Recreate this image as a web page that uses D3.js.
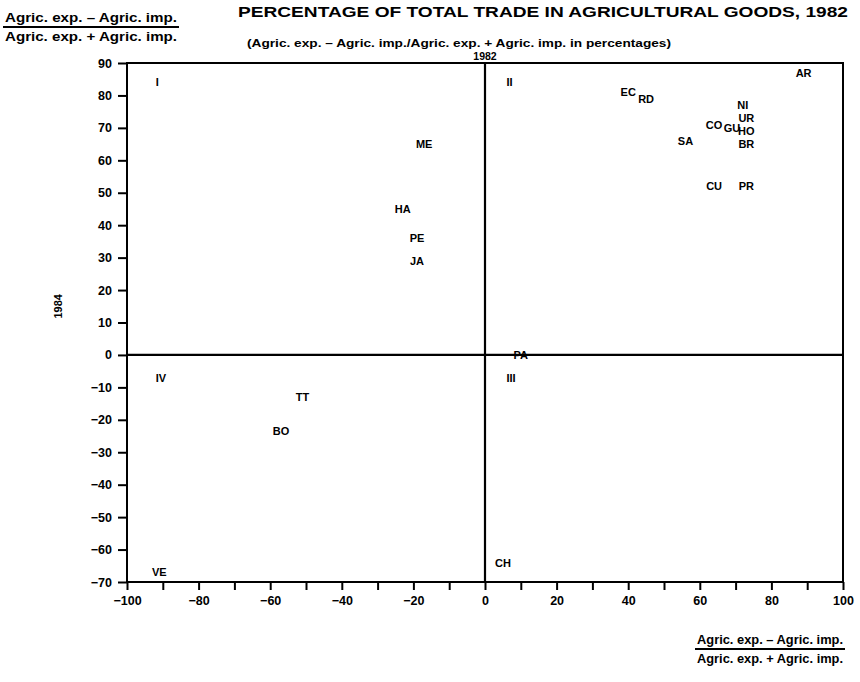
<!DOCTYPE html>
<html>
<head>
<meta charset="utf-8">
<script src="https://cdn.jsdelivr.net/npm/d3@7"></script>
<style>
  body { margin: 0; background: #fff; }
  svg text { font-family: "Liberation Sans Narrow", "Liberation Sans", Arial, sans-serif; font-weight: bold; fill: #000; }
</style>
</head>
<body>
<div id="chart"></div>
<script>
// Country codes and their trade balance shares (1982 on x, 1984 on y)
var codes = ["ME", "HA", "PE", "JA", "EC", "RD", "AR", "SA", "NI", "UR", "CO", "GU", "HO", "BR", "CU", "PR", "PA", "TT", "BO", "VE", "CH"];
var x1982 = [-17, -23, -19, -19, 40, 45, 89, 56, 72, 73, 64, 69, 73, 73, 64, 73, 10, -51, -57, -91, 5];
var y1984 = [65, 45, 36, 29, 81, 79, 87, 66, 77, 73, 71, 70, 69, 65, 52, 52, 0, -13, -23.5, -67, -64];

var xTicks = d3.range(-100, 101, 10);
var yTicks = d3.range(-70, 91, 10);
var quadrants = ["I", "II", "III", "IV"];

var width = 860, height = 682;
var margin = {left: 127, right: 17, top: 63, bottom: 100};

var svg = d3.select("#chart").append("svg")
    .attr("width", width)
    .attr("height", height);

var x = d3.scaleLinear().domain([-100, 100]).range([margin.left, width - margin.right]);
var y = d3.scaleLinear().domain([-70, 90]).range([height - margin.bottom, margin.top]);

// frame
svg.append("rect")
    .attr("x", x(-100)).attr("y", y(90))
    .attr("width", x(100) - x(-100)).attr("height", y(-70) - y(90))
    .attr("fill", "none").attr("stroke", "#000").attr("stroke-width", 2);

// quadrant lines
svg.append("line")
    .attr("x1", x(-100)).attr("x2", x(100)).attr("y1", y(0)).attr("y2", y(0))
    .attr("stroke", "#000").attr("stroke-width", 2.2);
svg.append("line")
    .attr("x1", x(0)).attr("x2", x(0)).attr("y1", y(90)).attr("y2", y(-70))
    .attr("stroke", "#000").attr("stroke-width", 2.2);

// axes
var xAxis = d3.axisBottom(x).tickValues(xTicks).tickSize(8).tickPadding(6)
    .tickFormat(function(d) { return d % 20 === 0 ? String(d).replace("-", "\u2212") : ""; });
var gx = svg.append("g").attr("transform", "translate(0," + y(-70) + ")").call(xAxis);
gx.select(".domain").remove();
gx.selectAll("line").attr("stroke-width", 2);
gx.selectAll("text").style("font-size", "12.5px");

var yAxis = d3.axisLeft(y).tickValues(yTicks).tickSize(9).tickPadding(6)
    .tickFormat(function(d) { return String(d).replace("-", "\u2212"); });
var gy = svg.append("g").attr("transform", "translate(" + x(-100) + ",0)").call(yAxis);
gy.select(".domain").remove();
gy.selectAll("line").attr("stroke-width", 2);
gy.selectAll("text").style("font-size", "12.5px");

svg.append("text")
    .attr("transform", "translate(62," + y(15) + ") rotate(-90)")
    .attr("text-anchor", "middle")
    .style("font-size", "11px")
    .text("1984");

// quadrant numerals
var qpos = [[-92, 84], [6, 84], [6, -7], [-92, -7]];
svg.selectAll(".quad").data(quadrants).enter().append("text")
    .attr("class", "quad")
    .attr("x", function(d, i) { return x(qpos[i][0]); })
    .attr("y", function(d, i) { return y(qpos[i][1]); })
    .attr("dominant-baseline", "central")
    .style("font-size", "11px")
    .text(function(d) { return d; });

// country labels
svg.selectAll(".pt").data(codes).enter().append("text")
    .attr("class", "pt")
    .attr("x", function(d, i) { return x(x1982[i]); })
    .attr("y", function(d, i) { return y(y1984[i]); })
    .attr("text-anchor", "middle")
    .attr("dominant-baseline", "central")
    .style("font-size", "11px")
    .text(function(d) { return d; });

// titles
svg.append("text")
    .attr("x", 543).attr("y", 17)
    .attr("text-anchor", "middle")
    .attr("textLength", 610).attr("lengthAdjust", "spacingAndGlyphs")
    .style("font-size", "15px")
    .text("PERCENTAGE OF TOTAL TRADE IN AGRICULTURAL GOODS, 1982");
svg.append("text")
    .attr("x", 459).attr("y", 47)
    .attr("text-anchor", "middle")
    .attr("textLength", 424).attr("lengthAdjust", "spacingAndGlyphs")
    .style("font-size", "11px")
    .text("(Agric. exp. \u2013 Agric. imp./Agric. exp. +  Agric. imp. in percentages)");
svg.append("text")
    .attr("x", x(0)).attr("y", 60)
    .attr("text-anchor", "middle")
    .style("font-size", "10.5px")
    .text("1982");

// fraction labels
function fraction(cx, top, w) {
    var g = svg.append("g");
    g.append("text").attr("x", cx).attr("y", top)
        .attr("text-anchor", "middle").style("font-size", "12px")
        .attr("textLength", w - 4).attr("lengthAdjust", "spacingAndGlyphs")
        .text("Agric. exp. \u2013 Agric. imp.");
    g.append("line").attr("x1", cx - w / 2).attr("x2", cx + w / 2)
        .attr("y1", top + 5).attr("y2", top + 5)
        .attr("stroke", "#000").attr("stroke-width", 2);
    g.append("text").attr("x", cx).attr("y", top + 19)
        .attr("text-anchor", "middle").style("font-size", "12px")
        .attr("textLength", w - 4).attr("lengthAdjust", "spacingAndGlyphs")
        .text("Agric. exp. + Agric. imp.");
}
fraction(91, 22, 176);
fraction(770, 644, 150);
</script>
</body>
</html>
